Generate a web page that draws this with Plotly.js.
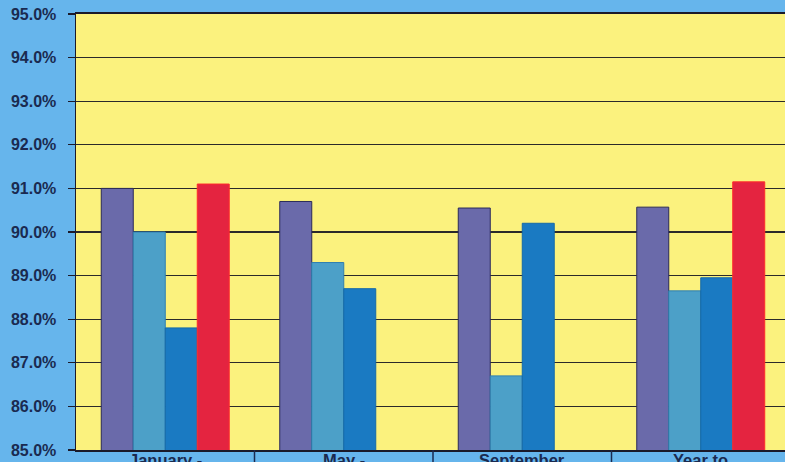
<!DOCTYPE html>
<html>
<head>
<meta charset="utf-8">
<script src="https://cdn.plot.ly/plotly-3.0.1.min.js"></script>
<style>html,body{margin:0;padding:0;background:#66b5ec;}#chart{width:785px;height:462px;}</style>
</head>
<body>
<div id="chart"></div>
<script>
var categories = ["January -", "May -", "September", "Year to"];
var series1 = [0.910, 0.907, 0.9055, 0.9057];
var series2 = [0.900, 0.893, 0.867, 0.8865];
var series3 = [0.878, 0.887, 0.902, 0.8895];
var series4 = [0.911, null, null, 0.9115];
var yTicks = [0.85, 0.86, 0.87, 0.88, 0.89, 0.90, 0.91, 0.92, 0.93, 0.94, 0.95];

function bar(vals, fill, edge) {
  return {type: "bar", x: categories, y: vals, marker: {color: fill, line: {color: edge, width: 1}}, hoverinfo: "skip"};
}
var data = [
  bar(series1, "#6a6aaa", "#2a2a5a"),
  bar(series2, "#4ca0c8", "#2f7fb0"),
  bar(series3, "#1a7ac2", "#156aa8"),
  bar(series4, "#e42440", "#ff2a2a")
];

var shapes = [];
for (var i = 0; i < categories.length - 1; i++) {
  shapes.push({type: "line", xref: "x", yref: "paper", x0: i + 0.5, x1: i + 0.5, y0: 0, y1: -0.05, line: {color: "#1a2a50", width: 1.5}});
}
var annotations = categories.map(function (c) {
  return {xref: "x", yref: "paper", x: c, y: 0, yanchor: "top", xanchor: "center", yshift: 0,
    text: c, showarrow: false, borderpad: 0,
    font: {size: 16.5, color: "#1a2a50", family: "Liberation Sans, Arial, sans-serif", weight: "bold"}};
});

var layout = {
  width: 785, height: 462,
  margin: {l: 76, r: 0, t: 14, b: 12},
  paper_bgcolor: "#66b5ec",
  plot_bgcolor: "#fbf27e",
  showlegend: false,
  barmode: "group",
  bargap: 0.283,
  bargroupgap: 0,
  font: {family: "Liberation Sans, Arial, sans-serif", color: "#1a2a50"},
  xaxis: {
    type: "category",
    range: [-0.5, 3.472],
    showgrid: false,
    showline: true, linecolor: "#1a1a2a", linewidth: 2, mirror: true,
    ticks: "", showticklabels: false
  },
  yaxis: {
    range: [0.85, 0.95],
    tickvals: yTicks,
    tickformat: ".1%",
    showgrid: true, gridcolor: "#2a2a2a", gridwidth: 1.2,
    showline: true, linecolor: "#1a1a2a", linewidth: 1.5,
    ticks: "outside", ticklen: 7, tickcolor: "#1a1a2a", tickwidth: 1.2,
    ticklabelstandoff: 8,
    tickfont: {size: 16, color: "#1a2a50", family: "Liberation Sans, Arial, sans-serif", weight: "bold"},
    zeroline: false
  },
  shapes: shapes,
  annotations: annotations
};
Plotly.newPlot("chart", data, layout, {displayModeBar: false, staticPlot: true});
</script>
</body>
</html>
